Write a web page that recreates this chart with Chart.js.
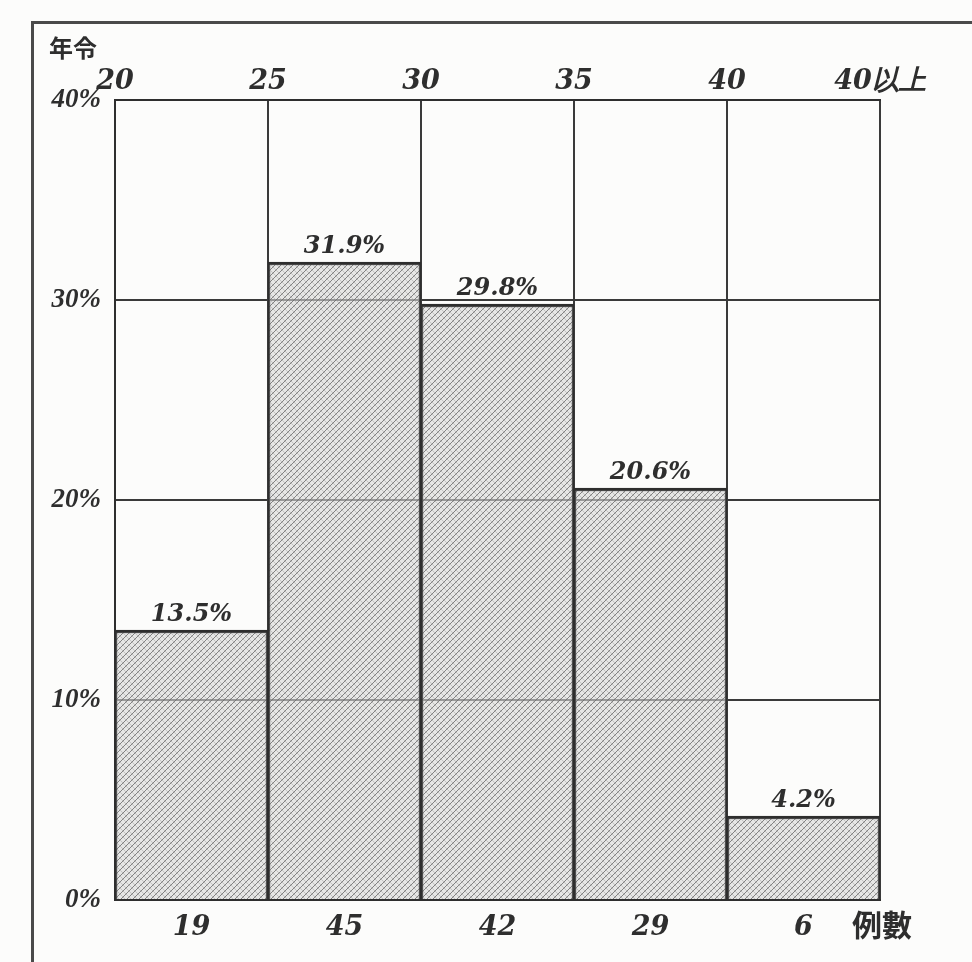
<!DOCTYPE html>
<html>
<head>
<meta charset="utf-8">
<script src="https://cdn.jsdelivr.net/npm/chart.js@4"></script>
<style>
  html, body { margin: 0; padding: 0; background: #fcfcfb; }
  #wrap { position: relative; width: 972px; height: 962px; overflow: hidden; }
  #frame {
    position: absolute; left: 31px; top: 21px; width: 1000px; height: 1000px;
    border-top: 3px solid #4a4a4a; border-left: 3px solid #4a4a4a;
  }
  canvas { position: absolute; left: 0; top: 0; }
</style>
</head>
<body>
<div id="wrap">
  <div id="frame"></div>
  <canvas id="hist" width="972" height="962"></canvas>
</div>
<script>
/* ── data ────────────────────────────────────────────────── */
const ageEdges = ["20", "25", "30", "35", "40", "40以上"];
const counts   = [19, 45, 42, 29, 6];
const percents = [13.5, 31.9, 29.8, 20.6, 4.2];
const pctText  = ["13.5%", "31.9%", "29.8%", "20.6%", "4.2%"];
const yTicks   = [0, 10, 20, 30, 40];

const ink = "#2e2e2e";
const yFont = { family: "Liberation Serif", size: 27, style: "italic", weight: "bold" };
const edgeFont = { family: "DejaVu Serif", size: 27, style: "italic", weight: "bold" };

// hatch fill like the engraved shading
function hatch() {
  const c = document.createElement("canvas");
  c.width = 6; c.height = 6;
  const g = c.getContext("2d");
  g.fillStyle = "rgba(215,215,215,0.6)";
  g.fillRect(0, 0, 6, 6);
  g.strokeStyle = "rgba(105,105,105,0.8)";
  g.lineWidth = 1;
  g.beginPath(); g.moveTo(0, 6); g.lineTo(6, 0); g.stroke();
  g.strokeStyle = "rgba(160,160,160,0.5)";
  g.beginPath(); g.moveTo(0, 0); g.lineTo(6, 6); g.stroke();
  return g.createPattern(c, "repeat");
}

// text that the axes don't give us: bar values, 年令, 例數
const labelsPlugin = {
  id: "extraText",
  afterDatasetsDraw(chart) {
    const { ctx, chartArea } = chart;
    const meta = chart.getDatasetMeta(0);
    ctx.save();
    ctx.fillStyle = ink;
    ctx.textAlign = "center";
    ctx.textBaseline = "bottom";
    ctx.font = "italic bold 24px 'DejaVu Serif'";
    meta.data.forEach((bar, i) => {
      ctx.fillText(pctText[i], bar.x, bar.y - 3);
    });
    ctx.textBaseline = "middle";
    ctx.font = "bold 24px 'Noto Sans CJK JP'";
    ctx.fillText("年令", chartArea.left - 42, chartArea.top - 52);
    ctx.font = "bold 30px 'Noto Sans CJK JP'";
    ctx.fillText("例數", chartArea.right + 2, chartArea.bottom + 25);
    ctx.restore();
  },
};

document.addEventListener("DOMContentLoaded", () => {
  const ctx = document.getElementById("hist").getContext("2d");

  new Chart(ctx, {
    type: "bar",
    data: {
      labels: counts.map(String),
      datasets: [{
        data: percents,
        backgroundColor: hatch(),
        borderColor: ink,
        borderWidth: { top: 3, left: 2, right: 2, bottom: 0 },
        borderSkipped: "bottom",
        barPercentage: 1,
        categoryPercentage: 1,
      }],
    },
    options: {
      responsive: false,
      animation: false,
      layout: { padding: { left: 45, right: 92, top: 60, bottom: 12 } },
      plugins: { legend: { display: false }, tooltip: { enabled: false } },
      scales: {
        x: {
          position: "bottom",
          grid: { display: false },
          border: { display: true, color: ink, width: 2 },
          ticks: { color: ink, font: edgeFont, padding: 4 },
          afterFit: (s) => { s.height = 50; },
        },
        xTop: {
          type: "linear",
          position: "top",
          offset: false,
          min: 0,
          max: ageEdges.length - 1,
          grid: { offset: false, color: "#3a3a3a", lineWidth: 2, drawTicks: false },
          border: { display: true, color: ink, width: 2 },
          ticks: {
            stepSize: 1,
            color: ink,
            font: edgeFont,
            padding: 2,
            callback: (v) => ageEdges[v],
          },
          afterFit: (s) => { s.height = 40; },
        },
        y: {
          min: yTicks[0],
          max: yTicks[yTicks.length - 1],
          grid: { color: "#3a3a3a", lineWidth: 2, drawTicks: false },
          border: { display: true, color: ink, width: 2 },
          afterBuildTicks: (s) => { s.ticks = yTicks.map((v) => ({ value: v })); },
          ticks: {
            color: ink,
            font: yFont,
            padding: 14,
            callback: (v) => v + "%",
          },
          afterFit: (s) => { s.width = 70; },
        },
      },
    },
    plugins: [labelsPlugin],
  });
});
</script>
</body>
</html>
